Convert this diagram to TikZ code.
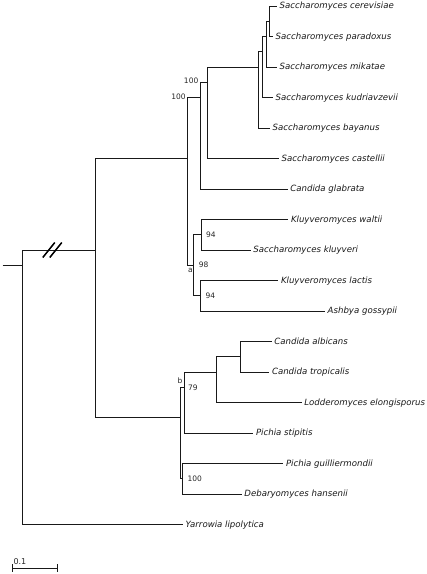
\documentclass[tikz,border=0pt]{standalone}
\usepackage{fontspec}
\newfontfamily\treefont{DejaVu Sans}
\usetikzlibrary{arrows, calc, positioning}

\begin{document}
\begin{tikzpicture}[x=1pt, y=-1pt,
		branch/.style={draw=black!90, line width=1pt},
		slash/.style={draw=black, line width=1.5pt},
		taxon/.style={anchor=west, inner xsep=2.5pt, inner ysep=0pt, text height=1.5ex, text depth=.3ex, text=black!90, font=\treefont\itshape\fontsize{8.6}{10}\selectfont},
		boot/.style={inner sep=1.5pt, text=black!85, font=\treefont\fontsize{7.5}{9}\selectfont}]
				\useasboundingbox (0,0) rectangle (427,574);
				\foreach \name/\x/\m in {root/22.3/8.5, n_top/95/8, n_sk/187.3/5, n_gla/200/3, n_cas/207.7/2.5, n_bay/258.3/2, n_kud/262.3/1.5, n_mik/266.5/1, n_cp/269.5/.5, n_kl/193.7/8.5, n_wk/201/7.5, n_lg/200.3/9.5, n_ctg/180/13.5, n_sti/184.5/12.5, n_lod/216/12, n_at/240/11.5, n_gh/182.3/15.5}
					\coordinate (\name) at (\x,{6+30.5*\m});
				\coordinate (stub) at (2.7,265.25);
				\draw[branch] (stub) -- (root);
				\foreach \a/\b in {root/n_top, n_top/n_sk, n_sk/n_gla, n_gla/n_cas, n_cas/n_bay, n_bay/n_kud, n_kud/n_mik, n_mik/n_cp, n_sk/n_kl, n_kl/n_wk, n_kl/n_lg, n_top/n_ctg, n_ctg/n_sti, n_sti/n_lod, n_lod/n_at, n_ctg/n_gh}
					\draw[branch] (\a) |- (\b);
				\foreach \name/\up/\x/\i/\txt in {cerevisiae/n_cp/277/0/Saccharomyces cerevisiae, paradoxus/n_cp/273/1/Saccharomyces paradoxus, mikatae/n_mik/277/2/Saccharomyces mikatae, kudriavzevii/n_kud/273/3/Saccharomyces kudriavzevii, bayanus/n_bay/270/4/Saccharomyces bayanus, castellii/n_cas/279/5/Saccharomyces castellii, glabrata/n_gla/287.7/6/Candida glabrata, waltii/n_wk/288.3/7/Kluyveromyces waltii, kluyveri/n_wk/250.7/8/Saccharomyces kluyveri, lactis/n_lg/278.3/9/Kluyveromyces lactis, gossypii/n_lg/325/10/Ashbya gossypii, albicans/n_at/271.7/11/Candida albicans, tropicalis/n_at/269.3/12/Candida tropicalis, elongisporus/n_lod/301.7/13/Lodderomyces elongisporus, stipitis/n_sti/253.3/14/Pichia stipitis, guilliermondii/n_gh/283.3/15/Pichia guilliermondii, hansenii/n_gh/241.7/16/Debaryomyces hansenii, lipolytica/root/183/17/Yarrowia lipolytica} {
					\coordinate (t_\name) at (\x,{6+30.5*\i});
					\draw[branch] (\up) |- (t_\name);
					\node[taxon] (l_\name) at (t_\name) {\txt};
				}
				% broken branch
				\coordinate (brk) at ($(root |- n_top)+(30,0)$);
				\draw[slash] ($(brk)+(-9.5,7.5)$) -- ++(12,-15);
				\draw[slash] ($(brk)+(-2.5,7.5)$) -- ++(12,-15);
				\node[boot, anchor=east, yshift=1pt] (bs_cas) at (n_gla |- n_cas) {100};
				\node[boot, anchor=east, yshift=1pt] (bs_gla) at (n_sk |- n_gla) {100};
				\node[boot, anchor=west, xshift=3.5pt] (bs_wk) at (n_wk) {94};
				\node[boot, anchor=west, xshift=3.5pt] (bs_kl) at (n_kl) {98};
				\node[boot, anchor=west, xshift=3.5pt] (bs_lg) at (n_lg) {94};
				\node[boot, anchor=west, xshift=2pt, yshift=-1pt] (bs_sti) at (n_sti) {79};
				\node[boot, anchor=west, xshift=3.5pt] (bs_gh) at (n_gh) {100};
				\node[boot, anchor=north west, inner sep=0pt, xshift=.5pt, yshift=-2.5pt] (lbl_a) at (n_sk |- n_kl) {a};
				\node[boot, anchor=south, inner sep=0pt, yshift=3pt] (lbl_b) at (n_ctg |- n_sti) {b};
				\coordinate (sb_l) at (12.3,568.3);
				\coordinate (sb_r) at (58.3,568.3);
				\draw[branch, |-|] (sb_l) -- (sb_r);
				\node[boot, anchor=south west, inner sep=0pt, xshift=1pt, yshift=3.5pt, font=\treefont\fontsize{8}{9}\selectfont] (sb_txt) at (sb_l) {0.1};
			\end{tikzpicture}
\end{document}
